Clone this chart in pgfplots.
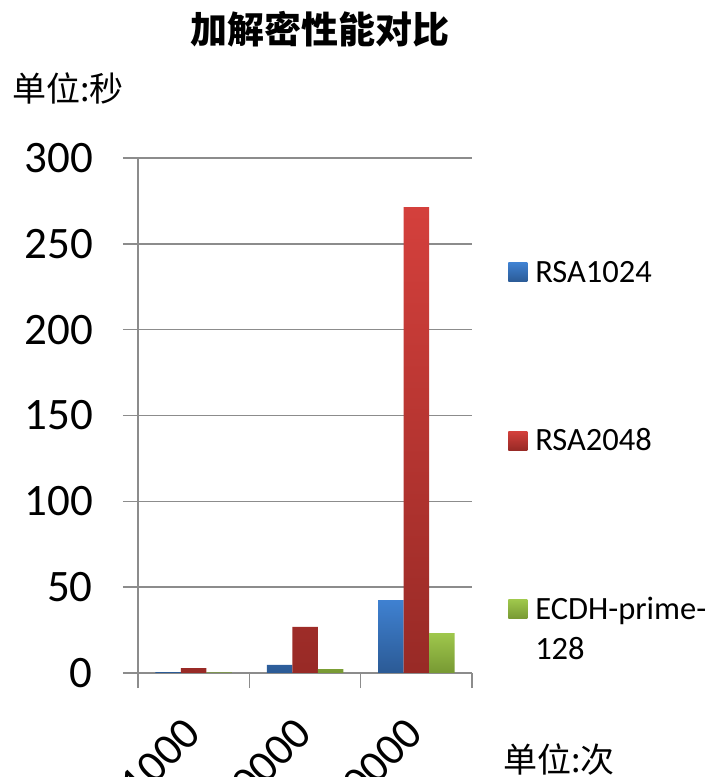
\documentclass[border=0pt]{standalone}
\usepackage{pgfplots}
\pgfplotsset{compat=1.18}
\usepackage{fontspec}
\setmainfont{Carlito}
\newfontfamily\cjk{Noto Sans CJK SC}
\definecolor{gridc}{HTML}{8C8C8C}
\definecolor{b1}{HTML}{3F81D1}\definecolor{b2}{HTML}{2B5A95}
\definecolor{r1}{HTML}{D4403C}\definecolor{r2}{HTML}{982A26}
\definecolor{g1}{HTML}{9FC74C}\definecolor{g2}{HTML}{779933}
\pgfplotsset{
  sqimg/.style={legend image code/.code={\path[##1] (0bp,-9.5bp) rectangle (19bp,9.5bp); \path (25bp,0bp);}},
  sqimgup/.style={legend image code/.code={\path[##1] (0bp,10.5bp) rectangle (19bp,29.5bp); \path (25bp,-29.5bp);}},
}
\begin{document}
\begin{tikzpicture}[x=1bp,y=1bp]
\useasboundingbox (0,0) rectangle (708,777);
\node[font=\cjk\bfseries\fontsize{37bp}{44bp}\selectfont] at (320,748) {加解密性能对比};
\node[anchor=west, inner sep=0pt, font=\cjk\fontsize{34bp}{40bp}\selectfont] at (12,689) {单位:秒};
\node[anchor=west, inner sep=0pt, font=\cjk\fontsize{34bp}{40bp}\selectfont] at (503,17) {单位:次};
\begin{axis}[
  at={(138bp,104bp)}, anchor=south west,
  scale only axis, width=334bp, height=515bp,
  xmin=0.5, xmax=3.5, ymin=0, ymax=300,
  ytick={0,50,...,300},
  xtick={0.5,1.5,2.5,3.5}, xticklabels={},
  extra x ticks={1,2,3}, extra x tick labels={1000,10000,100000},
  extra x tick style={major tick length=0pt, grid=none,
    tick label style={xshift=1bp, yshift=-51bp, rotate=45, anchor=east}},
  axis x line*=bottom, axis y line*=left,
  axis line style={gridc, line width=1.5bp, -},
  tick style={gridc, line width=1.5bp}, tick align=outside, major tick length=15bp,
  ymajorgrids, major grid style={gridc, line width=1.5bp},
  ybar=0pt, bar width=25.5bp,
  tick label style={font=\fontsize{45bp}{50bp}\selectfont},
  /pgf/number format/assume math mode=true,
  yticklabel style={anchor=east, inner sep=0pt, xshift=-30bp},
  legend style={at={(1.099,0.808)}, anchor=north west, draw=none, fill=none,
    font=\fontsize{32.5bp}{40bp}\selectfont, row sep=141bp,
    nodes={align=left, inner sep=2bp}},
  legend cell align=left,
  sqimg,
]
\addplot[draw=none, top color=b1, bottom color=b2] coordinates {(1,0.5) (2,4.7) (3,42.5)};
\addplot[draw=none, top color=r1, bottom color=r2] coordinates {(1,2.9) (2,26.8) (3,271.4)};
\addplot[draw=none, top color=g1, bottom color=g2, sqimgup]
  coordinates {(1,0.3) (2,2.3) (3,23.3)};
\legend{RSA1024, RSA2048, {ECDH-prime-\\128}}
\end{axis}
\end{tikzpicture}
\end{document}
